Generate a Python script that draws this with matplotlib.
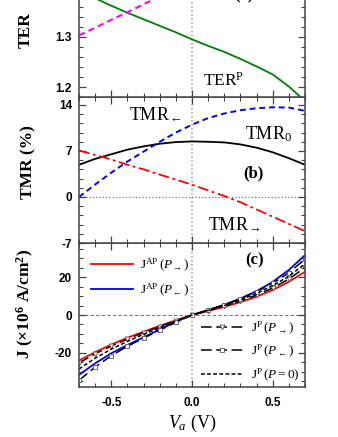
import matplotlib
matplotlib.use('Agg')
import matplotlib.pyplot as plt
from matplotlib.ticker import MultipleLocator, AutoMinorLocator

plt.rcParams['font.family'] = ['Liberation Serif', 'DejaVu Serif']
plt.rcParams['mathtext.fontset'] = 'custom'
plt.rcParams['mathtext.rm'] = 'Liberation Serif'
plt.rcParams['mathtext.it'] = 'Liberation Serif:italic'
plt.rcParams['mathtext.bf'] = 'Liberation Serif:bold'

# bias voltage grid (V)
volts = [-0.7, -0.6, -0.5, -0.4, -0.3, -0.2, -0.1, 0.0, 0.1, 0.2, 0.3, 0.4, 0.5, 0.6, 0.7]

# panel (a): TER
ter_p = [1.392, 1.377, 1.362, 1.348, 1.335, 1.322, 1.309, 1.295, 1.282, 1.270, 1.256, 1.241, 1.225, 1.201, 1.172]
ter_ap = [1.303, 1.318, 1.334, 1.349, 1.365, 1.380, 1.396, 1.411, 1.427, 1.442, 1.458, 1.473, 1.489, 1.504, 1.520]

# panel (b): TMR (%)
tmr_0 = [4.9, 5.8, 6.5, 7.2, 7.7, 8.1, 8.35, 8.45, 8.4, 8.3, 8.0, 7.5, 6.8, 5.9, 4.9]
tmr_left = [0.0, 1.9, 3.7, 5.4, 6.9, 8.4, 9.8, 11.0, 12.0, 12.7, 13.2, 13.5, 13.65, 13.6, 13.1]
tmr_right = [7.07, 6.4, 5.7, 4.9, 4.2, 3.4, 2.65, 1.87, 1.0, 0.15, -0.8, -1.9, -3.0, -4.1, -5.2]

# panel (c): J (x10^6 A/cm^2)
j_ap_right = [-24.0, -19.6, -15.6, -12.0, -8.8, -5.7, -2.8, 0.0, 2.1, 4.3, 6.8, 9.7, 13.2, 17.6, 22.8]
j_ap_left = [-31.6, -25.5, -20.2, -15.8, -11.8, -7.6, -3.6, 0.0, 2.6, 5.4, 8.7, 12.6, 17.5, 23.8, 31.6]
j_p_right = [-25.3, -20.5, -16.4, -12.7, -9.3, -6.1, -3.0, 0.0, 2.3, 4.7, 7.4, 10.5, 14.3, 19.0, 25.0]
j_p_left = [-34.5, -27.5, -21.5, -16.5, -12.2, -8.0, -3.9, 0.0, 2.6, 5.4, 8.6, 12.3, 16.8, 22.3, 29.5]
j_p_zero = [-28.5, -22.8, -18.0, -13.9, -10.2, -6.7, -3.3, 0.0, 2.4, 5.0, 8.0, 11.4, 15.5, 20.5, 27.0]

fig = plt.figure(figsize=(3.38, 4.37), dpi=100)
left, width = 0.2337, 0.6687
ax_c = fig.add_axes([left, 0.1144, width, 0.3295])
ax_b = fig.add_axes([left, 0.4439, width, 0.334])
ax_a = fig.add_axes([left, 0.7779, width, 0.333])

tickfont = {'family': 'Liberation Sans', 'weight': 'bold', 'size': 8.5}
for ax in (ax_a, ax_b, ax_c):
    ax.set_xlim(-0.7, 0.7)
    ax.xaxis.set_major_locator(MultipleLocator(0.5))
    ax.xaxis.set_minor_locator(MultipleLocator(0.1))
    ax.tick_params(which='both', direction='in', top=True, right=True, color='#444444')
    ax.tick_params(which='major', length=5, width=0.9)
    ax.tick_params(which='minor', length=3, width=0.8)
    ax.tick_params(axis='y', pad=5)
    ax.tick_params(axis='x', pad=7)
    for s in ax.spines.values():
        s.set_color('#444444')
        s.set_linewidth(1.1)
    ax.axvline(0, color='#999999', ls=':', lw=1.1, zorder=0)
ax_a.tick_params(labelbottom=False)
ax_b.tick_params(labelbottom=False)

# (a)
ax_a.plot(volts, ter_p, color='#008000', lw=1.3)
ax_a.plot(volts, ter_ap, color='#ff00ff', lw=1.5, ls=(0, (3, 2)))
ax_a.set_ylim(1.18, 1.47)
ax_a.set_yticks([1.2, 1.3])
ax_a.set_yticklabels(['1.2', '1.3'], fontdict=tickfont)
ax_a.yaxis.set_minor_locator(MultipleLocator(0.02))
ax_a.set_ylabel('TER', fontsize=12.5, fontweight='bold')
ax_a.yaxis.set_label_coords(-0.2, 0.46)
ax_a.text(0.07, 1.203, r'TER$^{\mathrm{P}}$', fontsize=12.5)
ax_a.text(0.32, 1.366, '(a)', fontsize=12, fontweight='bold', ha='center', va='bottom')

# (b)
ax_b.plot(volts, tmr_0, color='black', lw=1.3)
ax_b.plot(volts, tmr_left, color='#0000ff', lw=1.4, ls=(0, (3, 2)))
ax_b.plot(volts, tmr_right, color='#ff0000', lw=1.3, ls=(0, (6, 2, 1.5, 2)))
ax_b.axhline(0, color='#777777', ls=':', lw=0.9, zorder=0)
ax_b.set_ylim(-7, 15.2)
ax_b.set_yticks([-7, 0, 7, 14])
ax_b.set_yticklabels(['-7', '0', '7', '14'], fontdict=tickfont)
ax_b.yaxis.set_minor_locator(AutoMinorLocator(5))
ax_b.set_ylabel('TMR (%)', fontsize=12.5, fontweight='bold')
ax_b.yaxis.set_label_coords(-0.19, 0.555)
ax_b.text(-0.39, 11.7, r'TMR$_{\leftarrow}$', fontsize=13)
ax_b.text(0.33, 8.8, r'TMR$_{0}$', fontsize=13)
ax_b.text(0.38, 3.6, '(b)', fontsize=12, fontweight='bold', ha='center', va='center')
ax_b.text(0.1, -5.0, r'TMR$_{\rightarrow}$', fontsize=13)

# (c)
ax_c.axhline(0, color='#777777', ls=(0, (3, 2)), lw=0.8, zorder=0)
l1, = ax_c.plot(volts, j_ap_right, color='#ff0000', lw=1.3, label=r'J$^{\mathrm{AP}}\,(P_{\rightarrow})$')
l2, = ax_c.plot(volts, j_ap_left, color='#0000ff', lw=1.3, label=r'J$^{\mathrm{AP}}\,(P_{\leftarrow})$')
l3, = ax_c.plot(volts, j_p_right, color='black', lw=1.1, ls=(0, (7, 3)), marker='v',
                mfc='white', mec='#555555', ms=3.5, mew=0.6, label=r'J$^{\mathrm{P}}\,(P_{\rightarrow})$')
l4, = ax_c.plot(volts, j_p_left, color='black', lw=1.1, ls=(0, (7, 3)), marker='s',
                mfc='white', mec='#555555', ms=3.5, mew=0.6, label=r'J$^{\mathrm{P}}\,(P_{\leftarrow})$')
l5, = ax_c.plot(volts, j_p_zero, color='black', lw=1.1, ls=(0, (2.5, 1.5)),
                label=r'J$^{\mathrm{P}}\,(P=0)$')
ax_c.set_ylim(-38, 38)
ax_c.set_yticks([-20, 0, 20])
ax_c.set_yticklabels(['-20', '0', '20'], fontdict=tickfont)
ax_c.yaxis.set_minor_locator(MultipleLocator(5))
ax_c.set_xticks([-0.5, 0.0, 0.5])
ax_c.set_xticklabels(['-0.5', '0.0', '0.5'], fontdict=tickfont)
ax_c.set_ylabel(r'J (×10$^{\mathbf{6}}$ A/cm$^{\mathbf{2}}$)', fontsize=12.5, fontweight='bold')
ax_c.yaxis.set_label_coords(-0.19, 0.58)
ax_c.set_xlabel(r'$V_a\ (\mathrm{V})$', fontsize=13, labelpad=3)
ax_c.text(0.39, 29, '(c)', fontsize=12, fontweight='bold', ha='center', va='center')

leg1 = ax_c.legend(handles=[l1, l2], loc='upper left', bbox_to_anchor=(0.0, 0.985), frameon=False,
                   fontsize=9.5, handlelength=3.2, handletextpad=0.5, labelspacing=0.6)
ax_c.add_artist(leg1)
ax_c.legend(handles=[l3, l4, l5], loc='lower right', bbox_to_anchor=(1.03, -0.06), frameon=False,
            fontsize=9.5, handlelength=3.2, handletextpad=0.6, labelspacing=0.5, numpoints=1)

fig.savefig('out.png', dpi=100)
